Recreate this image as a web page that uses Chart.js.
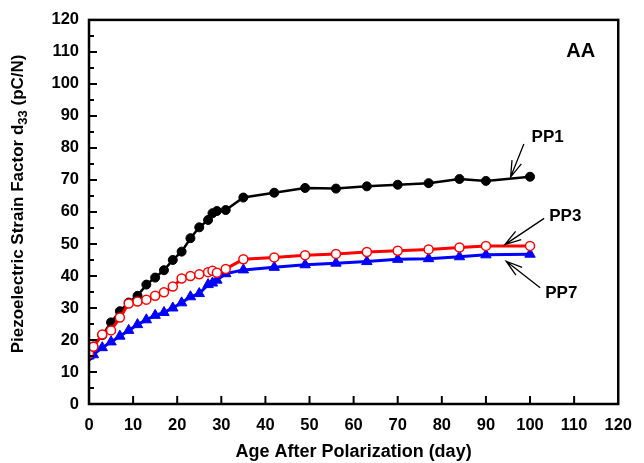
<!DOCTYPE html>
<html>
<head>
<meta charset="utf-8">
<script src="https://cdn.jsdelivr.net/npm/chart.js@4.4.1/dist/chart.umd.min.js"></script>
<style>
  html, body { margin: 0; padding: 0; background: #fff; }
  #wrap { width: 644px; height: 463px; }
</style>
</head>
<body>
<div id="wrap"><canvas id="chart"></canvas></div>
<script>
/* --------------- Data --------------------- */
const days = [0, 1, 3, 5, 7, 9, 11, 13, 15, 17, 19, 21, 23, 25, 27, 28, 29, 31, 35, 42, 49, 56, 63, 70, 77, 84, 90, 100];
const pp1 = [15, 18, 21.5, 25.5, 29, 31.7, 33.8, 37.3, 39.5, 41.8, 45, 47.6, 51.8, 55.2, 57.5, 59.6, 60.3, 60.6, 64.5, 66, 67.5, 67.3, 68, 68.5, 69, 70.3, 69.7, 71];
const pp3 = [15.7, 17.9, 21.7, 23, 27, 31.4, 32, 32.6, 33.8, 34.9, 36.7, 39.2, 40, 40.5, 41.2, 41.6, 41, 42.2, 45.2, 45.8, 46.5, 46.9, 47.5, 47.9, 48.3, 48.9, 49.4, 49.4];
const pp7 = [15, 15.4, 17.6, 19.4, 21.2, 23, 24.8, 26.3, 27.7, 28.6, 30, 31.6, 33.5, 34.5, 37.3, 37.8, 38.7, 40.7, 41.9, 42.7, 43.5, 44, 44.5, 45.2, 45.4, 46, 46.6, 46.8];

/* --------------- Labels with arrows (data coords) --------------------- */
const labelNames = ["PP1", "PP3", "PP7"];
const labelPos = [[104.0, 83.2], [108.0, 58.5], [107.1, 34.7]];
const arrowFrom = [[98.6, 81.2], [103.2, 58.0], [102.3, 36.3]];
const arrowTo = [[95.6, 70.9], [94.3, 49.8], [94.6, 44.6]];
const panelTag = "AA";
const panelTagPos = [111.5, 110.1];

const FONT = "'Liberation Sans', Arial, sans-serif";

const toPoints = (ys) => days.map((d, i) => ({ x: d, y: ys[i] }));

/* --------------- Frame, inward ticks, titles, labels --------------------- */
const decorPlugin = {
  id: "decor",
  afterDraw(chart) {
    const ctx = chart.ctx;
    const area = chart.chartArea;
    const xs = chart.scales.x;
    const ys = chart.scales.y;
    ctx.save();
    ctx.strokeStyle = "#000";
    ctx.lineWidth = 2.5;
    ctx.strokeRect(area.left, area.top, area.right - area.left, area.bottom - area.top);

    // inward ticks
    ctx.lineWidth = 2;
    ctx.beginPath();
    for (let v = 10; v < 120; v += 10) {
      const px = xs.getPixelForValue(v);
      ctx.moveTo(px, area.bottom);
      ctx.lineTo(px, area.bottom - 8);
    }
    for (let v = 5; v < 120; v += 5) {
      const py = ys.getPixelForValue(v);
      const len = v % 10 === 0 ? 8 : 5;
      ctx.moveTo(area.left, py);
      ctx.lineTo(area.left + len, py);
    }
    ctx.stroke();

    // x title
    ctx.fillStyle = "#000";
    ctx.font = "bold 18px " + FONT;
    ctx.textAlign = "center";
    ctx.textBaseline = "middle";
    ctx.fillText("Age After Polarization (day)", (area.left + area.right) / 2, 452);

    // y title with subscript
    ctx.save();
    ctx.translate(18, (area.top + area.bottom) / 2 - 8);
    ctx.rotate(-Math.PI / 2);
    const part1 = "Piezoelectric Strain Factor d";
    const sub = "33";
    const part2 = " (pC/N)";
    ctx.font = "bold 17px " + FONT;
    const w1 = ctx.measureText(part1).width;
    const w3 = ctx.measureText(part2).width;
    ctx.font = "bold 13px " + FONT;
    const w2 = ctx.measureText(sub).width;
    let x0 = -(w1 + w2 + w3) / 2;
    ctx.textAlign = "left";
    ctx.font = "bold 17px " + FONT;
    ctx.fillText(part1, x0, 0);
    ctx.font = "bold 13px " + FONT;
    ctx.fillText(sub, x0 + w1, 5);
    ctx.font = "bold 17px " + FONT;
    ctx.fillText(part2, x0 + w1 + w2, 0);
    ctx.restore();

    // panel tag
    ctx.font = "bold 20px " + FONT;
    ctx.textAlign = "center";
    ctx.fillText(panelTag, xs.getPixelForValue(panelTagPos[0]), ys.getPixelForValue(panelTagPos[1]));

    // series labels and arrows
    ctx.font = "bold 17px " + FONT;
    ctx.lineWidth = 1.3;
    labelNames.forEach((name, i) => {
      ctx.fillText(name, xs.getPixelForValue(labelPos[i][0]), ys.getPixelForValue(labelPos[i][1]));
      const fx = xs.getPixelForValue(arrowFrom[i][0]), fy = ys.getPixelForValue(arrowFrom[i][1]);
      const tx = xs.getPixelForValue(arrowTo[i][0]), ty = ys.getPixelForValue(arrowTo[i][1]);
      const ang = Math.atan2(fy - ty, fx - tx);
      const head = 17, spread = 0.3;
      ctx.beginPath();
      ctx.moveTo(fx, fy);
      ctx.lineTo(tx, ty);
      ctx.moveTo(tx + head * Math.cos(ang - spread), ty + head * Math.sin(ang - spread));
      ctx.lineTo(tx, ty);
      ctx.lineTo(tx + head * Math.cos(ang + spread), ty + head * Math.sin(ang + spread));
      ctx.stroke();
    });
    ctx.restore();
  },
};

/* --------------- Chart --------------------- */
new Chart(document.getElementById("chart"), {
  type: "line",
  plugins: [decorPlugin],
  data: {
    datasets: [
      {
        label: "PP3",
        data: toPoints(pp3),
        borderColor: "#ff0000",
        borderWidth: 3,
        pointStyle: "circle",
        pointRadius: 4.5,
        pointBorderWidth: 1.5,
        pointBackgroundColor: "#ffffff",
        pointBorderColor: "#ff0000",
        order: 0,
      },
      {
        label: "PP7",
        data: toPoints(pp7),
        borderColor: "#0000ff",
        borderWidth: 3,
        pointStyle: "triangle",
        pointRadius: 6,
        pointBorderWidth: 1,
        pointBackgroundColor: "#0000ff",
        pointBorderColor: "#0000ff",
        order: 1,
      },
      {
        label: "PP1",
        data: toPoints(pp1),
        borderColor: "#000000",
        borderWidth: 2.5,
        pointStyle: "circle",
        pointRadius: 4.5,
        pointBorderWidth: 1,
        pointBackgroundColor: "#000000",
        pointBorderColor: "#000000",
        order: 2,
      },
    ],
  },
  options: {
    responsive: true,
    maintainAspectRatio: false,
    animation: false,
    layout: { padding: { top: 16, right: 16, left: 0, bottom: 0 } },
    plugins: {
      legend: { display: false },
      tooltip: { enabled: false },
    },
    scales: {
      x: {
        type: "linear",
        min: 0,
        max: 120,
        afterFit: (s) => { s.height = 59; },
        grid: { display: false, drawTicks: false },
        border: { display: false },
        ticks: {
          stepSize: 10,
          padding: 12,
          color: "#000",
          font: { family: FONT, size: 16.5, weight: "bold" },
        },
      },
      y: {
        min: 0,
        max: 120,
        afterFit: (s) => { s.width = 89; },
        grid: { display: false, drawTicks: false },
        border: { display: false },
        ticks: {
          stepSize: 10,
          padding: 10,
          color: "#000",
          font: { family: FONT, size: 16.5, weight: "bold" },
        },
      },
    },
  },
});
</script>
</body>
</html>
